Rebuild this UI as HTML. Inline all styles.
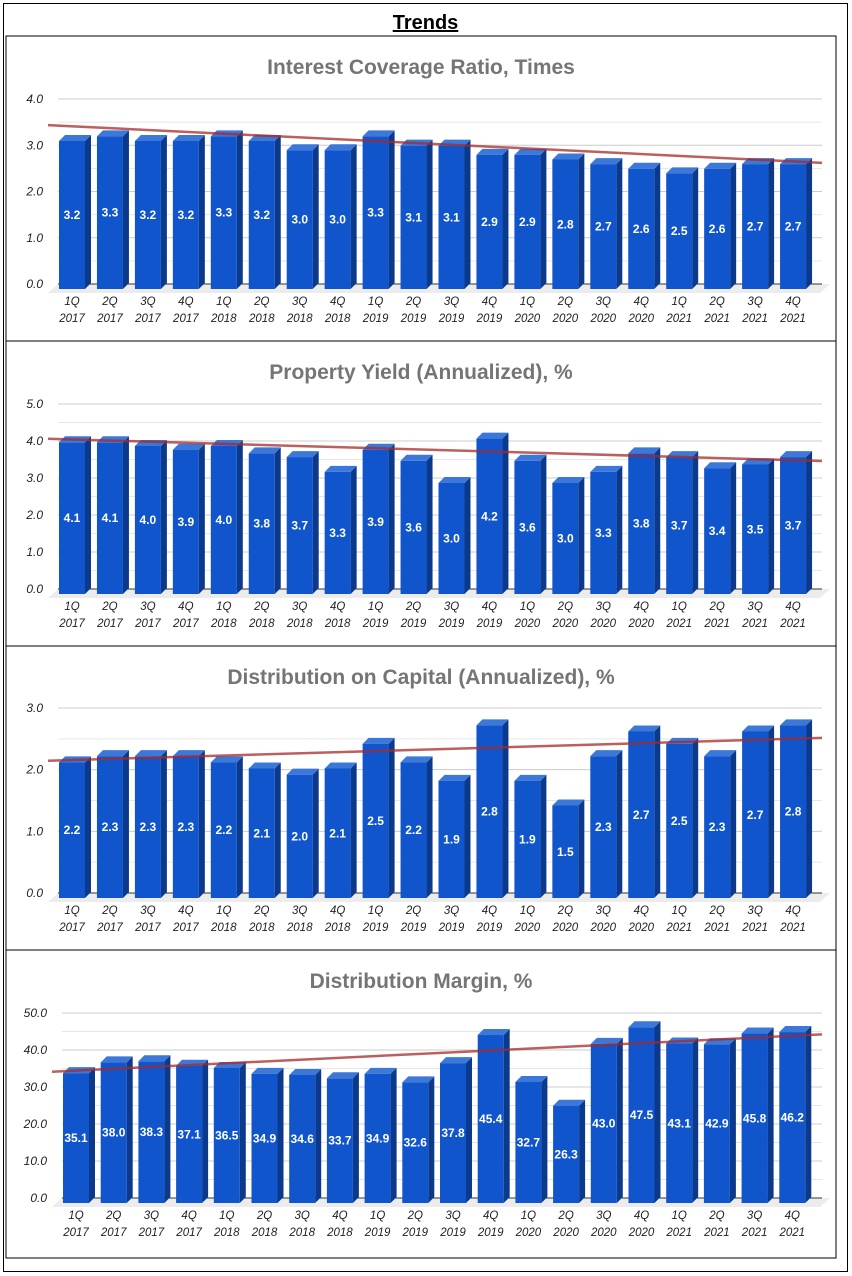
<!DOCTYPE html>
<html><head><meta charset="utf-8">
<style>
body{margin:0;background:#fff;width:852px;height:1276px;overflow:hidden;font-family:"Liberation Sans",sans-serif}
#outer{position:absolute;left:3px;top:3px;width:843px;height:1267px;border:1px solid #000}
#ttl{position:absolute;left:0;top:8px;width:843px;text-align:center;font-weight:bold;font-size:20px;text-decoration:underline}
svg{position:absolute;left:0;top:0}
</style></head><body>
<div id="outer"><div id="ttl">Trends</div></div>
<svg id="s" width="852" height="1276"></svg>
<script>
const categories=["1Q|2017","2Q|2017","3Q|2017","4Q|2017","1Q|2018","2Q|2018","3Q|2018","4Q|2018","1Q|2019","2Q|2019","3Q|2019","4Q|2019","1Q|2020","2Q|2020","3Q|2020","4Q|2020","1Q|2021","2Q|2021","3Q|2021","4Q|2021"];
const icrValues=[3.2,3.3,3.2,3.2,3.3,3.2,3.0,3.0,3.3,3.1,3.1,2.9,2.9,2.8,2.7,2.6,2.5,2.6,2.7,2.7];
const yieldValues=[4.1,4.1,4.0,3.9,4.0,3.8,3.7,3.3,3.9,3.6,3.0,4.2,3.6,3.0,3.3,3.8,3.7,3.4,3.5,3.7];
const docValues=[2.2,2.3,2.3,2.3,2.2,2.1,2.0,2.1,2.5,2.2,1.9,2.8,1.9,1.5,2.3,2.7,2.5,2.3,2.7,2.8];
const marginValues=[35.1,38.0,38.3,37.1,36.5,34.9,34.6,33.7,34.9,32.6,37.8,45.4,32.7,26.3,43.0,47.5,43.1,42.9,45.8,46.2];
const titles=["Interest Coverage Ratio, Times","Property Yield (Annualized), %","Distribution on Capital (Annualized), %","Distribution Margin, %"];
const tickMax=[4,5,3,50];
const tickStep=[1,1,1,10];
const NS="http://www.w3.org/2000/svg";
const s=document.getElementById('s');
function mk(t,a,p){const e=document.createElementNS(NS,t);for(const k in a)e.setAttribute(k,a[k]);(p||s).appendChild(e);return e;}
const panels=[
 {py:36,top:99,base:284,gl:58,b0:59,sp:37.95,vals:icrValues},
 {py:341,top:404,base:589,gl:58,b0:59,sp:37.95,vals:yieldValues},
 {py:646,top:708,base:893,gl:58,b0:59,sp:37.95,vals:docValues},
 {py:950,top:1013,base:1198,gl:62,b0:63,sp:37.7,vals:marginValues}];
const ph=[305,305,304,308];
panels.forEach((P,ci)=>{
  const g=mk('g',{});
  
  
  const pr=mk('rect',{x:6,y:P.py,width:830,height:ph[ci],fill:'none',stroke:'#000','stroke-width':1},g);
  
  
  const t=mk('text',{x:421,y:P.py+38,'text-anchor':'middle','font-size':21,'font-weight':'bold',fill:'#757575'},g);
  t.textContent=titles[ci];
  
  
  const max=tickMax[ci],step=tickStep[ci];
  const y=v=>P.base-(v/max)*(P.base-P.top);
  const R=822;
  for(let v=0;v<=max+1e-9;v+=step/2){
    const major=Math.abs(v/step-Math.round(v/step))<1e-6;
    if(v>0) mk('line',{x1:P.gl,x2:R,y1:y(v),y2:y(v),stroke:major?'#cccccc':'#e6e6e6','stroke-width':1},g);
    if(major){const tl=mk('text',{x:P.gl-15,y:y(v)+4,'text-anchor':'end','font-size':12,'font-style':'italic',fill:'#222'},g);
      tl.textContent=v.toFixed(1);
      
      }
  }
  mk('polygon',{points:`${P.gl-10},${P.base+9} ${R-2},${P.base+9} ${R+8},${P.base} ${P.gl},${P.base}`,fill:'#ececec'},g);
  mk('line',{x1:P.gl,x2:R,y1:P.base,y2:P.base,stroke:'#333','stroke-width':1},g);
  const bw=26,d=6,off=5;
  const cx=i=>P.b0+bw/2+i*P.sp;
  P.vals.forEach((v,i)=>{
    const x=P.b0+i*P.sp,yb=P.base+off,yt=yb-(v/max)*(P.base-P.top);
    const b=mk('g',{},g);
    
    
    mk('polygon',{points:`${x+bw},${yt} ${x+bw+d},${yt-6} ${x+bw+d},${yb-6} ${x+bw},${yb}`,fill:'#0b3a8c'},b);
    mk('polygon',{points:`${x},${yt} ${x+d},${yt-6} ${x+bw+d},${yt-6} ${x+bw},${yt}`,fill:'#3c78d8'},b);
    mk('rect',{x:x,y:yt,width:bw,height:yb-yt,fill:'#1155cc'},b);
    const lt=mk('text',{x:x+bw/2,y:(yt+yb)/2+4,'text-anchor':'middle','font-size':12,'font-weight':'bold',fill:'#fff'},b);
    lt.textContent=v.toFixed(1);
    const parts=categories[i].split('|');
    const xl=mk('text',{x:cx(i),y:P.base+21,'text-anchor':'middle','font-size':11.5,'font-style':'italic',fill:'#222'},g);
    xl.textContent=parts[0];
    
    
    const xl2=mk('text',{x:cx(i),y:P.base+38,'text-anchor':'middle','font-size':11.5,'font-style':'italic',fill:'#222'},g);
    xl2.textContent=parts[1];
    
    
  });
  const n=P.vals.length;let sx=0,sy=0,sxx=0,sxy=0;
  P.vals.forEach((v,i)=>{sx+=i;sy+=v;sxx+=i*i;sxy+=i*v;});
  const m=(n*sxy-sx*sy)/(n*sxx-sx*sx),c=(sy-m*sx)/n;
  const i0=(P.gl-10-cx(0))/P.sp,i1=(R-cx(0))/P.sp;
  const tr=mk('line',{x1:P.gl-10,y1:y(m*i0+c)-3,x2:R,y2:y(m*i1+c)-3,stroke:'#a52a2a','stroke-opacity':0.75,'stroke-width':2.5},g);
  
  
});
</script>
</body></html>
